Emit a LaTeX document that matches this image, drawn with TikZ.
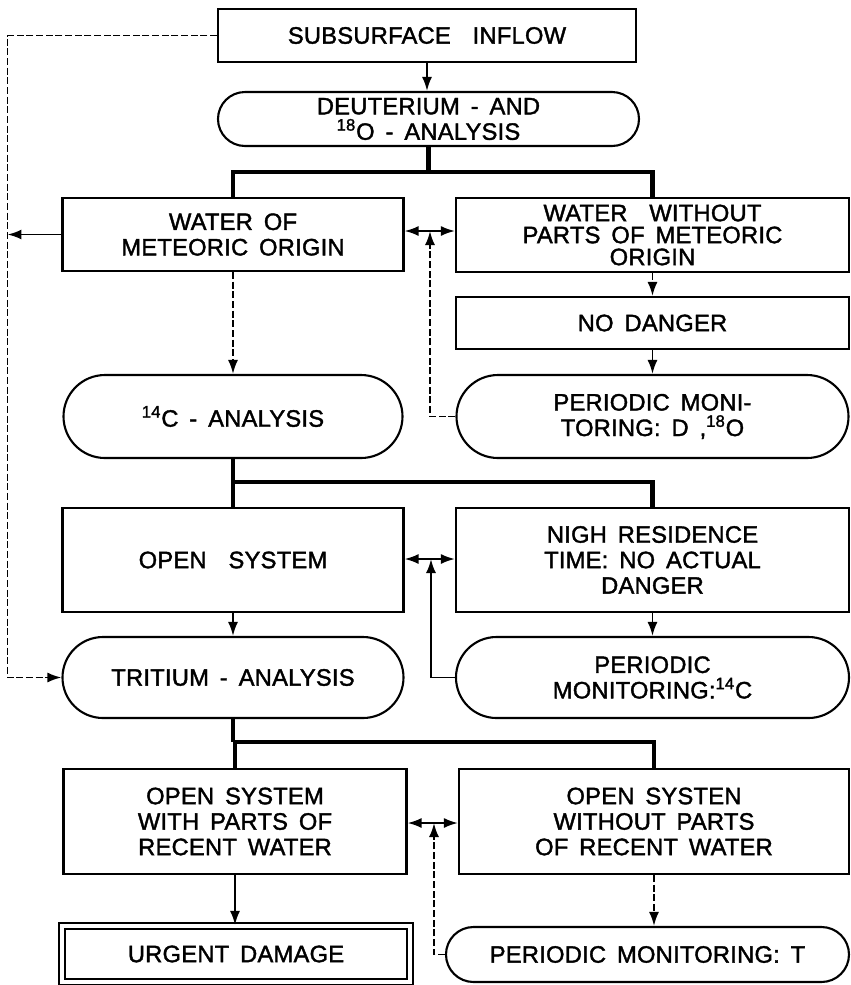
\documentclass[tikz,border=0pt]{standalone}
\usepackage{fontspec}
\setmainfont{Liberation Sans}[LetterSpace=1,WordSpace=1.6,FakeBold=1.6]
\usetikzlibrary{arrows.meta,shapes.misc}

\begin{document}
\begin{tikzpicture}[
		every node/.style={draw, line width=1.2pt, align=center, inner sep=0pt, font=\fontsize{13.5}{14.5}\selectfont},
		box/.style={rectangle},
		pill/.style={rounded rectangle},
		link/.style={line width=1.1pt},
		fork/.style={line width=2.4pt},
		brk/.style={line width=1.1pt, dash pattern=on 4pt off 1.5pt},
		>={Latex[length=2.8mm,width=2mm]}
	]
  \useasboundingbox (0cm, 0cm) rectangle (17.02cm, -19.7cm);
  \node (inflow) [box, minimum width=8.36cm, minimum height=1.06cm] at (8.54cm, -0.71cm) {SUBSURFACE\ \ INFLOW};
  \node (h_analysis) [pill, minimum width=8.42cm, minimum height=1.08cm] at (8.57cm, -2.38cm) {DEUTERIUM - AND\\\textsuperscript{18}O - ANALYSIS};
  \node (w_met) [box, minimum width=6.82cm, minimum height=1.46cm] at (4.66cm, -4.69cm) {WATER OF\\METEORIC ORIGIN};
  \node (w_nomet) [box, minimum width=7.86cm, minimum height=1.48cm, font=\fontsize{13.5}{12.5}\selectfont] at (13.05cm, -4.70cm) {WATER\ \ WITHOUT\\PARTS OF METEORIC\\ORIGIN};
  \node (no_danger) [box, minimum width=7.86cm, minimum height=1.04cm] at (13.05cm, -6.46cm) {NO DANGER};
  \node (c_analysis) [pill, minimum width=6.78cm, minimum height=1.66cm] at (4.66cm, -8.33cm) {\textsuperscript{14}C - ANALYSIS};
  \node (mon_d) [pill, minimum width=7.84cm, minimum height=1.66cm] at (13.05cm, -8.33cm) {PERIODIC MONI-\\TORING: D ,\textsuperscript{18}O};
  \node (open) [box, minimum width=6.82cm, minimum height=2.08cm] at (4.66cm, -11.2cm) {OPEN\ \ SYSTEM};
  \node (nigh) [box, minimum width=7.86cm, minimum height=2.08cm] at (13.05cm, -11.2cm) {NIGH RESIDENCE\\TIME: NO ACTUAL\\DANGER};
  \node (t_analysis) [pill, minimum width=6.82cm, minimum height=1.62cm] at (4.66cm, -13.55cm) {TRITIUM - ANALYSIS};
  \node (mon_c) [pill, minimum width=7.86cm, minimum height=1.62cm] at (13.05cm, -13.55cm) {PERIODIC\\MONITORING:\textsuperscript{14}C};
  \node (open_r) [box, minimum width=6.86cm, minimum height=2.10cm] at (4.70cm, -16.43cm) {OPEN SYSTEM\\WITH PARTS OF\\RECENT WATER};
  \node (open_nr) [box, minimum width=7.80cm, minimum height=2.10cm] at (13.08cm, -16.43cm) {OPEN SYSTEN\\WITHOUT PARTS\\OF RECENT WATER};
  \node (damage) [box, double, double distance=0.08cm, minimum width=6.96cm, minimum height=1.12cm] at (4.72cm, -19.08cm) {URGENT DAMAGE};
  \node (mon_t) [pill, minimum width=8.06cm, minimum height=1.10cm] at (12.95cm, -19.09cm) {PERIODIC MONITORING: T};
  \coordinate (fb_top) at (0.15cm, -0.71cm);
  \coordinate (fork_1) at (8.57cm, -3.44cm);
  \coordinate (fork_2) at (4.66cm, -9.64cm);
  \coordinate (fork_3) at (4.70cm, -14.84cm);
  \coordinate (j_1) at (8.60cm, -4.62cm);
  \coordinate (j_2) at (8.62cm, -11.18cm);
  \coordinate (j_3) at (8.68cm, -16.46cm);
  \draw [brk, ->] (inflow.west) -- (fb_top) |- (t_analysis.west);
  \draw [link, ->] (w_met.west) -- (fb_top |- w_met.west);
  \draw [link, ->] (inflow.south) -- (inflow.south |- h_analysis.north);
  \draw [fork] (h_analysis.south) -- (fork_1);
  \draw [fork] (w_met.north) |- (fork_1) -| (w_nomet.north);
  \draw [link, <->] (w_met.east |- j_1) -- (w_nomet.west |- j_1);
  \draw [brk, ->] (mon_d.west) -| (j_1);
  \draw [brk, ->] (w_nomet.south) -- (no_danger.north);
  \draw [link, ->] (no_danger.south) -- (mon_d.north);
  \draw [brk, ->] (w_met.south) -- (c_analysis.north);
  \draw [fork] (c_analysis.south) -- (fork_2);
  \draw [fork] (open.north) |- (fork_2) -| (nigh.north);
  \draw [link, <->] (open.east |- j_2) -- (nigh.west |- j_2);
  \draw [link, ->] (mon_c.west) -| (j_2);
  \draw [link, ->] (open.south) -- (t_analysis.north);
  \draw [link, ->] (nigh.south) -- (mon_c.north);
  \draw [fork] (t_analysis.south) -- (t_analysis.south |- fork_3);
  \draw [fork] (open_r.north) |- (fork_3) -| (open_nr.north);
  \draw [link, <->] (open_r.east |- j_3) -- (open_nr.west |- j_3);
  \draw [brk, ->] (mon_t.west) -| (j_3);
  \draw [link, ->] (open_r.south) -- (open_r.south |- damage.north);
  \draw [brk, ->] (open_nr.south) -- (open_nr.south |- mon_t.north);
\end{tikzpicture}
\end{document}
